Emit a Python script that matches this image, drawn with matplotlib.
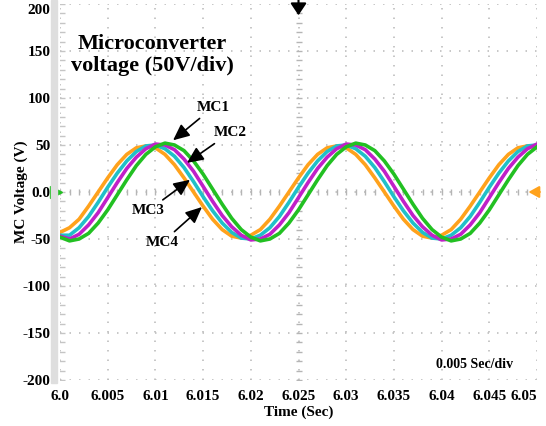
import numpy as np
import matplotlib
matplotlib.use("Agg")
import matplotlib.pyplot as plt
from matplotlib.patches import Rectangle

plt.rcParams['font.family'] = 'Liberation Serif'
plt.rcParams['font.weight'] = 'bold'
plt.rcParams['axes.labelweight'] = 'bold'

time = np.linspace(6.0, 6.05, 51)

orange_v = [-43, -38, -29, -15, 0, 15, 29, 40, 47, 49, 47, 40, 29, 15, 0, -15, -29, -40, -47, -49,
            -46, -40, -29, -15, 0, 15, 29, 40, 47, 49, 47, 40, 29, 15, 0, -15, -29, -40, -47, -49,
            -46, -40, -29, -15, 0, 15, 29, 40, 47, 49, 47]
cyan_v = [-46, -46, -38, -26, -11, 5, 20, 33, 43, 49, 50, 46, 38, 26, 11, -5, -20, -33, -43, -49,
          -50, -46, -38, -26, -11, 5, 20, 33, 43, 49, 50, 46, 38, 26, 11, -5, -20, -33, -43, -49,
          -50, -46, -38, -26, -11, 5, 20, 33, 43, 49, 50]
magenta_v = [-47, -50, -45, -35, -22, -6, 10, 25, 37, 46, 51, 50, 45, 35, 22, 6, -10, -25, -37, -46,
             -51, -50, -45, -35, -22, -6, 10, 25, 37, 46, 51, 50, 45, 35, 22, 6, -10, -25, -37, -46,
             -51, -50, -45, -35, -22, -6, 10, 25, 37, 46, 51]
green_v = [-48, -52, -50, -44, -33, -19, -3, 13, 28, 40, 48, 52, 50, 44, 33, 19, 3, -13, -28, -40,
           -48, -52, -50, -44, -33, -19, -3, 13, 28, 40, 48, 52, 50, 44, 33, 19, 3, -13, -28, -40,
           -48, -52, -50, -44, -33, -19, -3, 13, 28, 40, 48]

xticks = [6.0, 6.005, 6.01, 6.015, 6.02, 6.025, 6.03, 6.035, 6.04, 6.045, 6.05]
xticklabels = ['6.0', '6.005', '6.01', '6.015', '6.02', '6.025', '6.03', '6.035', '6.04', '6.045', '6.05']
yticks = [-200, -150, -100, -50, 0, 50, 100, 150, 200]
yticklabels = ['-200', '-150', '-100', '-50', '0.0', '50', '100', '150', '200']

# labels: (text, text position, arrow tip)
labels = [('MC1', (6.01604, 90), (6.01185, 55)),
          ('MC2', (6.01782, 63), (6.01331, 31)),
          ('MC3', (6.00922, -20), (6.01363, 13)),
          ('MC4', (6.01069, -54), (6.01488, -16))]

fig = plt.figure(figsize=(5.46, 4.26), dpi=100)
ax = fig.add_axes([60/546, 1-380/426, 477/546, 376/426])

# scope grid
ax.set_xlim(6.0, 6.05)
ax.set_ylim(-200, 200)
ax.set_xticks(xticks)
ax.set_xticklabels(xticklabels, fontsize=11)
ax.set_yticks(yticks)
ax.set_yticklabels(yticklabels, fontsize=11)
ax.tick_params(length=0, pad=7)
ax.get_xticklabels()[-1].set_ha('right')
ax.get_yticklabels()[-1].set_va('top')
ax.grid(True, color='#bdbdbd', linestyle=(0, (0.9, 4.8)), lw=1.2)
for s in ax.spines.values():
    s.set_visible(False)

# minor division marks on the center lines and left edge
ymin = np.arange(-200, 201, 10)
xmin = np.arange(6.0, 6.0501, 0.001)
ax.plot(np.full(len(ymin), 6.025), ymin, ls='none', marker='_', ms=5, mew=1, color='#b5b5b5')
ax.plot(np.full(len(ymin), 6.0002), ymin, ls='none', marker='_', ms=5, mew=1, color='#c5c5c5')
ax.plot(xmin, np.zeros(len(xmin)), ls='none', marker='|', ms=5, mew=1, color='#b5b5b5')

fig.patches.append(Rectangle((51/546, 1-383/426), 6/546, 383/426, transform=fig.transFigure,
                             color='#dedede', zorder=0))

ax.plot(time, orange_v, color='#ffa21c', lw=2.6, zorder=3)
ax.plot(time, cyan_v, color='#20c0c8', lw=2.6, zorder=3)
ax.plot(time, magenta_v, color='#c020c8', lw=2.6, zorder=3)
ax.plot(time, green_v, color='#22c022', lw=2.6, zorder=3)

for name, txt, tip in labels:
    ax.annotate(name, xy=tip, xytext=txt, fontsize=11, ha='center', va='center', zorder=5,
                arrowprops=dict(arrowstyle='-|>,head_length=1.1,head_width=0.5', mutation_scale=9,
                                color='black', lw=1.2, shrinkA=2, shrinkB=0))

# channel / trigger markers
ax.plot([6.0 - 0.00045], [0], marker='>', ms=8, color='#22c022', clip_on=False, ls='none', zorder=6)
ax.annotate('', xy=(6.0491, 0), xytext=(6.0503, 0), annotation_clip=False,
            arrowprops=dict(arrowstyle='-|>,head_length=0.9,head_width=0.5', mutation_scale=7,
                            color='#ffa21c', lw=1.5, shrinkA=0, shrinkB=0))
ax.annotate('', xy=(6.025, 188), xytext=(6.025, 204), annotation_clip=False,
            arrowprops=dict(arrowstyle='-|>,head_length=0.9,head_width=0.6', mutation_scale=8,
                            color='black', lw=1.5, shrinkA=0, shrinkB=0))

ax.set_xlabel('Time (Sec)', fontsize=11, labelpad=2)
ax.set_ylabel('MC Voltage (V)', fontsize=11, labelpad=-4)

fig.text(152/546, 1-55/426, 'Microconverter\nvoltage (50V/div)', fontsize=16,
         ha='center', va='center', linespacing=1.15)
fig.text(475/546, 1-364/426, '0.005 Sec/div', fontsize=10, ha='center', va='center')

fig.savefig('out.png', dpi=100)
